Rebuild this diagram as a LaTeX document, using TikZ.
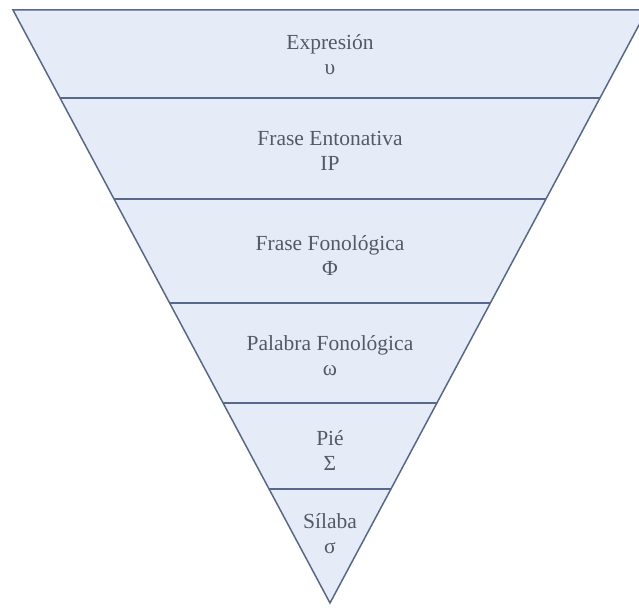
\documentclass[tikz,border=0pt]{standalone}
\usepackage{fontspec}
\setmainfont{Liberation Serif}
\usetikzlibrary{calc}
\definecolor{edgeblue}{HTML}{57698A}
\definecolor{bandfill}{HTML}{E5ECF8}
\definecolor{labelgray}{HTML}{555A62}
\begin{document}
\begin{tikzpicture}[x=1pt,y=-1pt,
  edge/.style={draw=edgeblue,line width=1.5pt,line join=miter},
  lbl/.style={text=labelgray,align=center,inner sep=0pt,
              font=\fontsize{21.5}{25}\selectfont}]
\useasboundingbox (0,0) rectangle (639,607);
\clip (0,0) rectangle (639,607);
% outer inverted triangle
\coordinate (TL) at (13,10);
\coordinate (TR) at (647,10);
\coordinate (A) at (330,603);
\fill[bandfill] (TL) -- (TR) -- (A) -- cycle;
% band boundaries
\foreach \n/\f in {1/0.1484,2/0.3187,3/0.4941,4/0.6627,5/0.8078}{
  \coordinate (L\n) at ($(TL)!\f!(A)$);
  \coordinate (R\n) at ($(TR)!\f!(A)$);
  \draw[edge] (L\n) -- (R\n);
}
\draw[edge] (TL) -- (TR) -- (A) -- cycle;
% level labels
\node[lbl] (expr) at (330,55) {Expresión\\υ};
\node[lbl] (ip)   at (330,151) {Frase Entonativa\\IP};
\node[lbl] (phi)  at (330,256) {Frase Fonológica\\Φ};
\node[lbl] (omg)  at (330,356) {Palabra Fonológica\\ω};
\node[lbl] (foot) at (330,451) {Pié\\Σ};
\node[lbl] (syl)  at (330,534) {Sílaba\\σ};
\end{tikzpicture}
\end{document}
